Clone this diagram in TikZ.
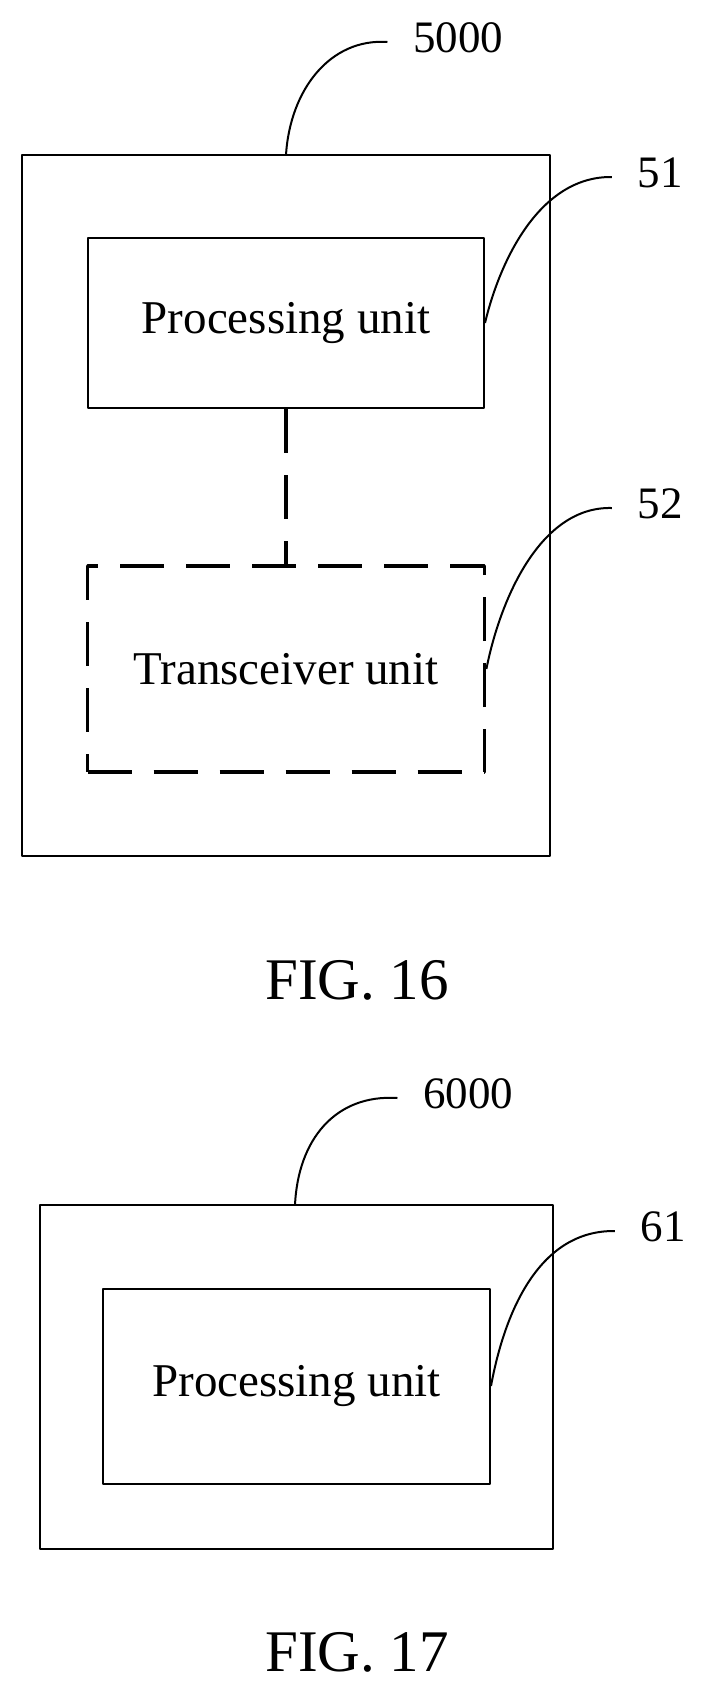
\documentclass[tikz,border=0pt]{standalone}
\usepackage{fontspec}
\setmainfont{Liberation Serif}
\begin{document}
\begin{tikzpicture}[x=1pt,y=-1pt,line join=bevel,
  unit/.style={draw=black, line width=2pt, inner sep=0pt, font=\fontsize{47}{47}\selectfont},
  opt/.append style={unit, line width=3.8pt, dash pattern=on 44pt off 22pt},
  ref/.style={font=\fontsize{45}{45}\selectfont},
  lead/.style={line width=2pt},
  fig/.style={font=\fontsize{59}{59}\selectfont}]
  \useasboundingbox (0,0) rectangle (715,1701);
%% FIG. 16
  % Node: device
  \draw [line width=2pt] (21.7,155) rectangle (550,856);
  \coordinate (top5000) at (286,155);
  \node [unit, minimum width=396pt, minimum height=170pt] (proc) at (286,323) {Processing unit};
  \node [unit, opt, minimum width=397pt, minimum height=206pt] (trx) at (286,669) {Transceiver unit};
  % Edge: proc -- trx
  \draw [line width=3.8pt, dash pattern=on 44pt off 22pt] (proc.south) -- (trx.north);
  % Labels
  \node [ref] (l5000) at (458,38) {5000};
  \node [ref] (l51) at (660,173) {51};
  \node [ref] (l52) at (660,504) {52};
  \coordinate (e5000) at ([xshift=-22pt,yshift=-4pt]l5000.west);
  \coordinate (e51) at ([xshift=-22pt,yshift=-4pt]l51.west);
  \coordinate (e52) at ([xshift=-22pt,yshift=-4pt]l52.west);
  \draw [lead] (top5000) .. controls (290,90) and (330,38) .. (e5000);
  \draw [lead] (proc.east) .. controls (500,260) and (540,176) .. (e51);
  \draw [lead] (trx.east) .. controls (500,600) and (540,506) .. (e52);
  \node [fig] (f16) at (357,980) {FIG. 16};
%% FIG. 17
  \draw [line width=2pt] (40,1205) rectangle (553,1549);
  \coordinate (top6000) at (295,1205);
  \node [unit, minimum width=387pt, minimum height=195pt] (proc2) at (296.5,1386) {Processing unit};
  \node [ref] (l6000) at (468,1094) {6000};
  \node [ref] (l61) at (663,1227) {61};
  \coordinate (e6000) at ([xshift=-22pt,yshift=-4pt]l6000.west);
  \coordinate (e61) at ([xshift=-22pt,yshift=-4pt]l61.west);
  \draw [lead] (top6000) .. controls (298,1140) and (335,1094) .. (e6000);
  \draw [lead] (proc2.east) .. controls (505,1310) and (540,1230) .. (e61);
  \node [fig] (f17) at (357,1652) {FIG. 17};
\end{tikzpicture}
\end{document}
